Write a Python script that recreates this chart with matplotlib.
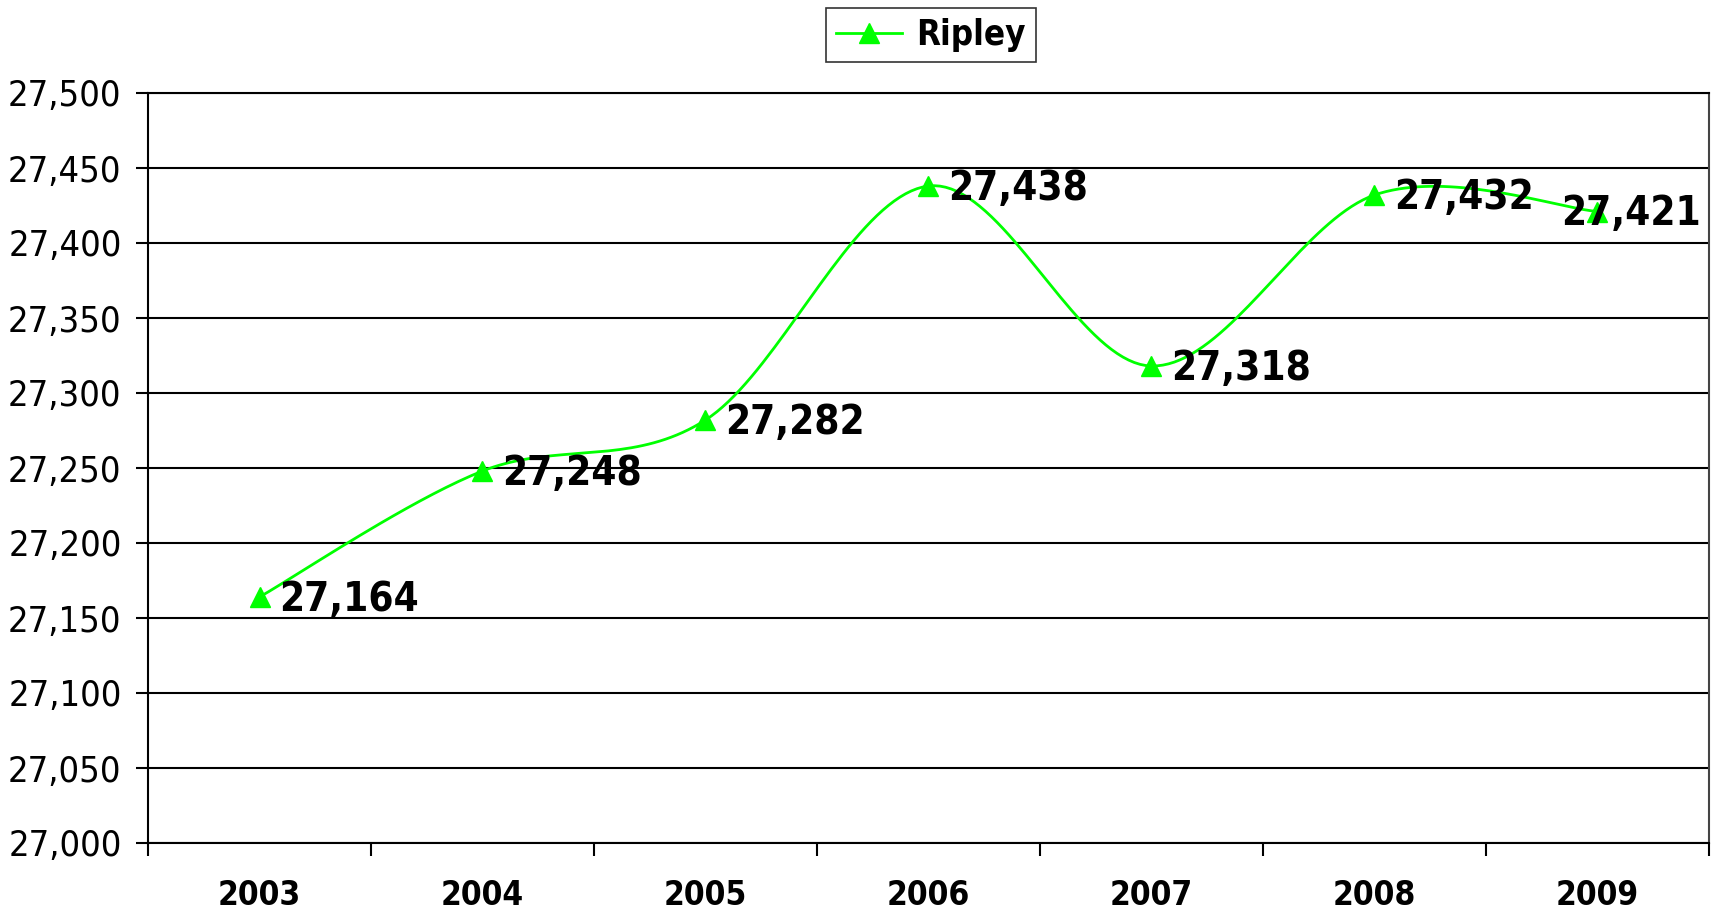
import numpy as np
import matplotlib.pyplot as plt

years = ['2003', '2004', '2005', '2006', '2007', '2008', '2009']
ripley = [27164, 27248, 27282, 27438, 27318, 27432, 27421]
yticks = list(range(27000, 27501, 50))

green = '#00FF00'
plt.rcParams['font.family'] = 'DejaVu Sans'
plt.rcParams['font.stretch'] = 'condensed'


# Excel-like smoothed line (bezier through the points)
def smooth(xs, ys, n=40):
    p = np.column_stack([xs, ys]).astype(float)
    ext = np.vstack([p[0], p, p[-1]])
    out = []
    for i in range(len(p) - 1):
        p0, p1 = ext[i + 1], ext[i + 2]
        c1 = p0 + (ext[i + 2] - ext[i]) / 6.0
        c2 = p1 - (ext[i + 3] - ext[i + 1]) / 6.0
        t = np.linspace(0, 1, n)[:, None]
        seg = ((1 - t) ** 3) * p0 + 3 * ((1 - t) ** 2) * t * c1 + 3 * (1 - t) * t ** 2 * c2 + t ** 3 * p1
        out.append(seg if i == 0 else seg[1:])
    out = np.vstack(out)
    return out[:, 0], out[:, 1]


fig = plt.figure(figsize=(17.15, 9.17), dpi=100)
ax = fig.add_axes([148 / 1715, 1 - 843 / 917, (1709 - 148) / 1715, (843 - 93) / 917])

x = np.arange(len(years))
sx, sy = smooth(x, ripley)
ax.plot(sx, sy, color=green, lw=2, zorder=3)
ax.plot(x, ripley, linestyle='none', marker='^', ms=14, color=green, zorder=4)
# legend proxy
ax.plot([], [], color=green, lw=2, marker='^', ms=14, label='Ripley')

for i, (xi, v) in enumerate(zip(x, ripley)):
    if i == len(x) - 1:
        # last label pushed inside the plot, like Excel does
        ax.annotate(f'{v:,}', (1 - 8 / 1561, v), xycoords=('axes fraction', 'data'),
                    xytext=(0, -2), textcoords='offset points',
                    ha='right', va='center', fontsize=29, fontweight='bold', zorder=5)
    else:
        ax.annotate(f'{v:,}', (xi, v), xytext=(14, -2), textcoords='offset points',
                    ha='left', va='center', fontsize=29, fontweight='bold', zorder=5)

ax.set_xlim(-0.5, len(years) - 0.5)
ax.set_ylim(27000, 27500)
ax.set_yticks(yticks)
ax.set_yticklabels([f'{t:,}' for t in yticks], fontsize=26)
ax.set_xticks(x)
ax.set_xticklabels(years, fontsize=24, fontweight='bold')
ax.set_xticks(np.arange(-0.5, len(years), 1), minor=True)
ax.tick_params(axis='x', which='major', length=0, pad=26)
ax.tick_params(axis='x', which='minor', length=9, width=1.5, direction='out')
ax.tick_params(axis='y', length=9, width=1.5, pad=10)

ax.grid(axis='y', color='black', lw=1.5)
ax.set_axisbelow(True)
for s in ax.spines.values():
    s.set_linewidth(1.5)
    s.set_color('black')
ax.spines['right'].set_color('#444444')

leg = fig.legend(loc='center', bbox_to_anchor=(931 / 1715, 1 - 35 / 917),
                 prop={'size': 25, 'weight': 'bold'}, frameon=True, fancybox=False,
                 handlelength=1.9, borderpad=0.3, handletextpad=0.4)
leg.get_frame().set_edgecolor('black')
leg.get_frame().set_linewidth(1.2)

fig.savefig('out.png', dpi=100)
